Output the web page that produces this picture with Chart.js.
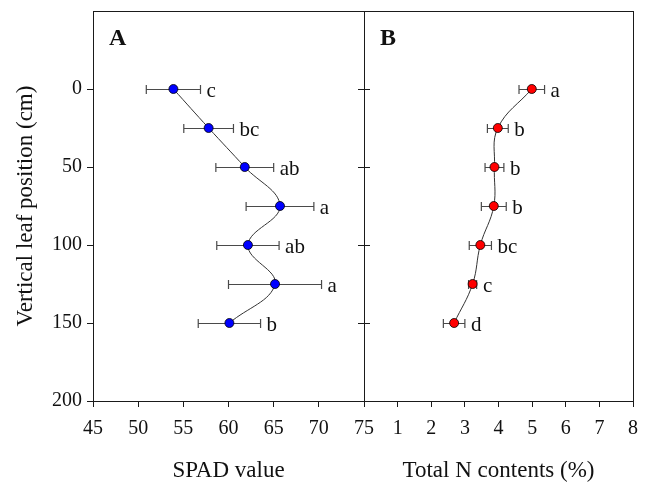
<!DOCTYPE html>
<html>
<head>
<meta charset="utf-8">
<script src="https://cdn.jsdelivr.net/npm/chart.js@4.4.1/dist/chart.umd.min.js"></script>
<style>
  html, body { margin: 0; padding: 0; background: #ffffff; }
  #wrap { position: relative; width: 648px; height: 482px; }
  canvas { position: absolute; left: 0; top: 0; }
</style>
</head>
<body>
<div id="wrap">
  <canvas id="chartA" width="648" height="482"></canvas>
  <canvas id="chartB" width="648" height="482"></canvas>
</div>
<script>
// ---- data ----
const positions   = [0, 25, 50, 75, 100, 125, 150];          // vertical leaf position (cm)
const spadMean    = [53.9, 57.8, 61.8, 65.7, 62.15, 65.15, 60.1];
const spadErr     = [3.0, 2.75, 3.2, 3.75, 3.45, 5.15, 3.45];
const spadLetters = ['c', 'bc', 'ab', 'a', 'ab', 'a', 'b'];
const nMean       = [4.99, 3.98, 3.88, 3.86, 3.46, 3.23, 2.68];
const nErr        = [0.38, 0.31, 0.28, 0.37, 0.33, 0.12, 0.32];
const nLetters    = ['a', 'b', 'b', 'b', 'bc', 'c', 'd'];
const yTicks      = [0, 50, 100, 150, 200];
const spadTicks   = [45, 50, 55, 60, 65, 70, 75];
const nTicks      = [0, 1, 2, 3, 4, 5, 6, 7, 8];

const SERIF = '"Liberation Serif", "DejaVu Serif", serif';

function overlayPlugin(opts) {
  return {
    id: 'overlay_' + opts.panel,
    beforeDatasetsDraw(chart) {
      const ctx = chart.ctx;
      const xs = chart.scales.x, ys = chart.scales.y;
      ctx.save();
      ctx.strokeStyle = '#4a4a4a';
      ctx.lineWidth = 1.2;
      opts.mean.forEach((m, i) => {
        const y = Math.round(ys.getPixelForValue(positions[i])) + 0.5;
        const x1 = xs.getPixelForValue(m - opts.err[i]);
        const x2 = xs.getPixelForValue(m + opts.err[i]);
        ctx.beginPath();
        ctx.moveTo(x1, y); ctx.lineTo(x2, y);
        ctx.moveTo(x1, y - 4.5); ctx.lineTo(x1, y + 4.5);
        ctx.moveTo(x2, y - 4.5); ctx.lineTo(x2, y + 4.5);
        ctx.stroke();
      });
      ctx.restore();
    },
    afterDraw(chart) {
      const ctx = chart.ctx;
      const a = chart.chartArea;
      const xs = chart.scales.x, ys = chart.scales.y;
      ctx.save();
      // frame
      ctx.strokeStyle = '#1a1a1a';
      ctx.lineWidth = 1;
      ctx.strokeRect(Math.round(a.left) + 0.5, Math.round(a.top) + 0.5,
                     Math.round(a.right - a.left), Math.round(a.bottom - a.top));
      // crossing ticks on the left edge of panel B
      if (opts.crossTicks) {
        ctx.beginPath();
        yTicks.forEach(v => {
          const y = Math.round(ys.getPixelForValue(v)) + 0.5;
          ctx.moveTo(a.left - 6, y); ctx.lineTo(a.left + 6, y);
        });
        ctx.stroke();
      }
      // significance letters
      ctx.fillStyle = '#111';
      ctx.font = '21px ' + SERIF;
      ctx.textAlign = 'left';
      ctx.textBaseline = 'alphabetic';
      opts.mean.forEach((m, i) => {
        const y = ys.getPixelForValue(positions[i]);
        const xe = Math.max(xs.getPixelForValue(m + opts.err[i]), xs.getPixelForValue(m) + 4.5);
        ctx.fillText(opts.letters[i], xe + 6, y + 8);
      });
      // panel letter
      ctx.font = 'bold 24px ' + SERIF;
      ctx.fillText(opts.panel, a.left + 16, 45);
      // axis title
      ctx.font = '23px ' + SERIF;
      ctx.textAlign = 'center';
      ctx.fillText(opts.xTitle, (a.left + a.right) / 2, 477);
      if (opts.yTitle) {
        ctx.translate(32, (a.top + a.bottom) / 2);
        ctx.rotate(-Math.PI / 2);
        ctx.fillText(opts.yTitle, 0, 0);
      }
      ctx.restore();
    }
  };
}

function tickFont() { return { family: SERIF, size: 20 }; }

function makeChart(id, cfg) {
  const pts = positions.map((p, i) => ({ x: cfg.mean[i], y: p }));
  return new Chart(document.getElementById(id), {
    type: 'scatter',
    data: {
      datasets: [{
        data: pts,
        showLine: true,
        tension: 0.4,
        borderColor: '#333333',
        borderWidth: 1,
        pointRadius: 4.5,
        pointHoverRadius: 4.5,
        pointBackgroundColor: cfg.color,
        pointBorderColor: '#000000',
        pointBorderWidth: 0.8
      }]
    },
    options: {
      responsive: false,
      animation: false,
      events: [],
      layout: { padding: cfg.padding },
      plugins: { legend: { display: false }, tooltip: { enabled: false } },
      scales: {
        x: {
          type: 'linear',
          min: cfg.xMin, max: cfg.xMax,
          afterBuildTicks: s => { s.ticks = cfg.xTicks.map(v => ({ value: v })); },
          afterFit: s => { s.height = 81; s.paddingLeft = 0; s.paddingRight = 0; },
          ticks: {
            color: '#111',
            font: tickFont(),
            padding: 10,
            maxRotation: 0,
            autoSkip: false,
            callback: v => (cfg.hideZero && v === 0) ? '' : String(v)
          },
          grid: { display: true, drawOnChartArea: false, drawTicks: true, tickLength: 6, color: '#1a1a1a', lineWidth: 1 },
          border: { display: false }
        },
        y: {
          type: 'linear',
          display: cfg.showY,
          min: -50, max: 200,
          reverse: true,
          afterBuildTicks: s => { s.ticks = yTicks.map(v => ({ value: v })); },
          afterFit: s => {
            s.width = cfg.showY ? 93 : 0;
            s.paddingTop = 0; s.paddingBottom = 0;
          },
          ticks: { color: '#111', font: tickFont(), padding: 5, autoSkip: false },
          grid: { display: true, drawOnChartArea: false, drawTicks: true, tickLength: 6, color: '#1a1a1a', lineWidth: 1 },
          border: { display: false }
        }
      }
    },
    plugins: [overlayPlugin(cfg)]
  });
}

makeChart('chartA', {
  panel: 'A', mean: spadMean, err: spadErr, letters: spadLetters, color: '#0000ff',
  xMin: 45, xMax: 75, xTicks: spadTicks, hideZero: false, showY: true,
  padding: { left: 0, top: 11, right: 284, bottom: 0 },
  xTitle: 'SPAD value', yTitle: 'Vertical leaf position (cm)', crossTicks: false
});
makeChart('chartB', {
  panel: 'B', mean: nMean, err: nErr, letters: nLetters, color: '#ff0000',
  xMin: 0, xMax: 8, xTicks: nTicks, hideZero: true, showY: false,
  padding: { left: 364, top: 11, right: 15, bottom: 0 },
  xTitle: 'Total N contents (%)', yTitle: null, crossTicks: true
});
</script>
</body>
</html>
